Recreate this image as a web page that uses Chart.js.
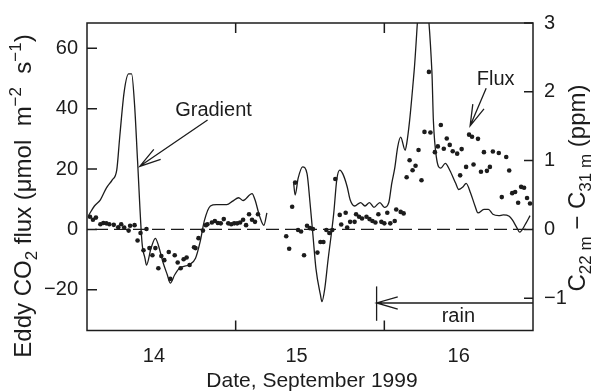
<!DOCTYPE html>
<html>
<head>
<meta charset="utf-8">
<script src="https://cdn.jsdelivr.net/npm/chart.js@4"></script>
<style>
  html, body { margin: 0; padding: 0; background: #fff; }
  #wrap { width: 594px; height: 392px; }
</style>
</head>
<body>
<div id="wrap"><canvas id="chart"></canvas></div>
<script>
// eddy flux (left axis, umol m-2 s-1), one dot per half hour
const fluxDays = [
  14.02,14.04,14.06,14.09,14.11,14.13,14.15,14.18,14.21,14.23,14.25,14.28,14.29,14.32,14.34,14.36,14.38,14.40,
  14.42,14.44,14.46,14.48,14.50,14.52,14.55,14.56,14.59,14.61,14.63,14.65,14.67,14.69,14.72,14.73,14.75,14.78,
  14.80,14.81,14.84,14.86,14.88,14.90,14.92,14.95,14.97,14.99,15.01,15.03,15.05,15.07,15.09,15.11,15.13,15.15,
  15.34,15.36,15.38,15.40,15.42,15.44,15.46,15.48,15.50,15.52,15.55,15.57,15.59,15.61,15.63,15.65,15.67,15.70,
  15.71,15.74,15.75,15.77,15.80,15.81,15.83,15.85,15.88,15.90,15.92,15.94,15.96,15.98,16.00,16.02,16.04,16.07,
  16.08,16.11,16.13,
  16.15,16.17,16.19,16.21,16.23,16.25,16.27,16.30,16.31,16.34,16.36,16.38,16.40,16.42,16.44,16.46,16.49,16.51,
  16.52,16.55,16.57,16.59,16.60,16.63,16.65,16.67,16.69,16.71,16.73,16.77,16.79,16.82,16.84,16.86,16.88,16.90,
  16.92,16.94,16.96,16.98
];
const fluxValues = [
  4.2,3.2,3.9,1.7,2.1,2.0,1.7,1.5,0.7,1.7,0.6,-0.4,1.2,1.4,-3.7,-1.2,-6.9,0.1,
  -6.2,-8.6,-6.2,-12.9,-8.8,-10.2,-7.5,-16.4,-8.6,-11.0,-12.9,-9.9,-9.3,-11.8,-5.9,-6.2,-2.9,-0.4,
  1.4,1.7,2.3,2.8,2.1,2.0,3.4,2.0,1.7,2.0,2.0,2.3,3.2,1.4,5.0,3.2,2.5,5.0,
  -2.3,-6.4,7.5,15.5,-0.2,-0.7,-8.6,1.2,0.4,0.1,-7.7,-4.2,-4.2,-0.2,-1.2,-0.2,16.7,4.8,
  1.6,5.5,0.6,2.5,2.5,5.0,4.2,3.6,4.2,3.4,2.8,2.3,5.0,2.5,2.0,5.5,2.0,2.8,
  6.6,5.8,5.3,
  17.3,22.9,19.6,21.1,26.3,16.3,32.3,52.2,32.1,25.6,27.5,34.6,26.7,30.1,28.0,25.9,25.1,17.9,
  26.6,20.7,31.4,30.7,21.5,30.0,19.1,25.6,19.4,20.7,25.8,25.3,10.7,24.0,19.5,12.0,12.4,8.8,
  14.1,13.8,10.4,8.6
];

// concentration gradient (right axis, ppm), two runs with a gap
const gradDaysA = [14.01,14.05,14.09,14.13,14.17,14.20,14.22,14.25,14.28,14.30,14.32,14.34,14.37,14.39,14.40,14.43,
  14.46,14.48,14.51,14.54,14.56,14.59,14.62,14.69,14.73,14.76,14.79,14.83,14.87,14.94,14.98,15.02,15.05,15.11,
  15.13,15.16,15.19,15.21];
const gradValuesA = [0.20,0.34,0.43,0.60,0.72,0.86,1.34,2.00,2.26,2.26,1.81,1.00,-0.19,-0.42,-0.52,-0.28,
  -0.13,-0.23,-0.47,-0.66,-0.78,-0.66,-0.57,-0.51,-0.42,-0.19,0.13,0.34,0.36,0.36,0.41,0.46,0.42,0.52,
  0.43,0.20,0.06,0.24];
const gradDaysB = [15.39,15.40,15.42,15.45,15.48,15.50,15.52,15.54,15.57,15.58,15.60,15.62,15.66,15.68,15.70,
  15.72,15.75,15.77,15.80,15.84,15.87,15.90,15.93,15.97,16.00,16.03,16.05,16.07,16.09,16.11,16.14,16.15,16.17,
  16.20,16.25,16.32,16.33,16.35,16.38,16.41,16.44,16.48,16.50,16.53,16.55,16.58,16.61,16.63,16.67,16.70,16.73,
  16.77,16.80,16.84,16.86,16.89,16.91,16.95,16.98];
const gradValuesB = [0.67,0.50,0.74,0.91,0.81,0.39,-0.09,-0.57,-0.95,-1.05,-0.85,-0.47,0.24,0.72,0.86,
  0.81,0.62,0.43,0.34,0.39,0.34,0.39,0.32,0.39,0.32,0.39,0.67,0.89,1.20,1.34,1.15,1.24,1.58,
  2.29,3.6,2.29,1.58,1.05,0.89,0.96,0.86,0.67,0.58,0.62,0.67,0.53,0.34,0.24,0.29,0.29,0.22,
  0.20,0.21,0.19,0.14,0.03,-0.04,0.08,0.20];

// axes
const dayMin = 14, dayMax = 17;
const dayTickMarks = [15, 16];
const dayLabelPos = [14.45, 15.41, 16.5];
const dayLabels = ['14', '15', '16'];
const fluxTicks = [-20, 0, 20, 40, 60];
const gradTicks = [-1, 0, 1, 2, 3];
const gradMin = -1.47, gradMax = 3;
const fluxPerPpm = 22.8;   // left and right zero line up

const ink = '#1c1c1c';
const font = '"Liberation Sans", Arial, Helvetica, sans-serif';

const gradPoints = gradDaysA.map((d, i) => ({ x: d, y: gradValuesA[i] }))
  .concat([{ x: 15.3, y: null }])
  .concat(gradDaysB.map((d, i) => ({ x: d, y: gradValuesB[i] })));
const fluxPoints = fluxDays.map((d, i) => ({ x: d, y: fluxValues[i] }));

function minus(v) { return String(v).replace('-', '\u2212'); }

function arrow(ctx, x1, y1, x2, y2) {
  const a = Math.atan2(y1 - y2, x1 - x2), len = 22, spread = 0.28;
  ctx.beginPath();
  ctx.moveTo(x1, y1); ctx.lineTo(x2, y2);
  ctx.moveTo(x2 + len * Math.cos(a - spread), y2 + len * Math.sin(a - spread));
  ctx.lineTo(x2, y2);
  ctx.lineTo(x2 + len * Math.cos(a + spread), y2 + len * Math.sin(a + spread));
  ctx.stroke();
}

// rotated title with sub/superscripts
function richTitle(ctx, parts, cx, cy, size) {
  const big = size + 'px ' + font, small = Math.round(size * 0.7) + 'px ' + font;
  ctx.save();
  ctx.translate(cx, cy);
  ctx.rotate(-Math.PI / 2);
  let w = 0;
  parts.forEach(p => { ctx.font = p.s ? small : big; w += ctx.measureText(p.t).width; });
  let x = -w / 2;
  const base = size * 0.36;
  ctx.textBaseline = 'alphabetic';
  ctx.textAlign = 'left';
  parts.forEach(p => {
    ctx.font = p.s ? small : big;
    const dy = p.s === 'sub' ? size * 0.25 : p.s === 'sup' ? -size * 0.4 : 0;
    ctx.fillText(p.t, x, base + dy);
    x += ctx.measureText(p.t).width;
  });
  ctx.restore();
}

const decor = {
  id: 'decor',
  beforeDatasetsDraw(chart) {
    const { ctx, chartArea: a, scales } = chart;
    const y0 = scales.y.getPixelForValue(0);
    ctx.save();
    ctx.strokeStyle = ink;
    ctx.lineWidth = 1.3;
    ctx.setLineDash([13, 6]);
    ctx.beginPath();
    ctx.moveTo(a.left + 8, y0);
    ctx.lineTo(a.right, y0);
    ctx.stroke();
    ctx.restore();
  },
  afterDatasetsDraw(chart) {
    const { ctx, chartArea: a, scales } = chart;
    const X = v => scales.x.getPixelForValue(v);
    const Y = v => scales.y.getPixelForValue(v);
    const Y2 = v => scales.y2.getPixelForValue(v);
    ctx.save();
    ctx.strokeStyle = ink;
    ctx.fillStyle = ink;

    // frame and inward ticks
    ctx.lineWidth = 1.5;
    ctx.strokeRect(a.left, a.top, a.right - a.left, a.bottom - a.top);
    ctx.beginPath();
    fluxTicks.forEach(v => { ctx.moveTo(a.left, Y(v)); ctx.lineTo(a.left + 10, Y(v)); });
    gradTicks.forEach(v => { ctx.moveTo(a.right, Y2(v)); ctx.lineTo(a.right - 9, Y2(v)); });
    dayTickMarks.forEach(v => {
      ctx.moveTo(X(v), a.bottom); ctx.lineTo(X(v), a.bottom - 10);
      ctx.moveTo(X(v), a.top); ctx.lineTo(X(v), a.top + 10);
    });
    ctx.stroke();

    // annotations
    ctx.lineWidth = 1.3;
    ctx.font = '20px ' + font;
    ctx.textAlign = 'center';
    ctx.textBaseline = 'alphabetic';
    ctx.fillText('Gradient', X(14.851), Y(37.5));
    arrow(ctx, X(14.811), Y(36.25), X(14.355), Y(20.9));
    ctx.fillText('Flux', X(16.749), Y(47.7));
    arrow(ctx, X(16.685), Y(46.8), X(16.577), Y(34.3));

    // rain period
    ctx.beginPath();
    ctx.moveTo(X(15.948), Y(-18.9));
    ctx.lineTo(X(15.948), Y(-30.3));
    ctx.stroke();
    arrow(ctx, X(dayMax), Y(-24.4), X(15.948), Y(-24.4));
    ctx.fillText('rain', X(16.498), Y(-30.6));

    // axis titles
    ctx.font = '21px ' + font;
    ctx.fillText('Date, September 1999', (a.left + a.right) / 2 + 2, 387);
    richTitle(ctx, [
      { t: 'Eddy CO' }, { t: '2', s: 'sub' }, { t: ' flux (\u03bcmol  m' }, { t: '\u22122', s: 'sup' },
      { t: '  s' }, { t: '\u22121', s: 'sup' }, { t: ')' }
    ], 22, 196, 24);
    richTitle(ctx, [
      { t: 'C' }, { t: '22 m', s: 'sub' }, { t: ' \u2212 C' }, { t: '31 m', s: 'sub' }, { t: ' (ppm)' }
    ], 576, 188, 24);
    ctx.restore();
  }
};

new Chart(document.getElementById('chart'), {
  type: 'line',
  data: {
    datasets: [
      {
        label: 'Gradient',
        data: gradPoints,
        yAxisID: 'y2',
        borderColor: ink,
        borderWidth: 1.3,
        pointRadius: 0,
        cubicInterpolationMode: 'monotone',
        spanGaps: false,
        fill: false
      },
      {
        label: 'Flux',
        data: fluxPoints,
        yAxisID: 'y',
        showLine: false,
        pointRadius: 2.3,
        pointBorderWidth: 0,
        pointBackgroundColor: ink
      }
    ]
  },
  options: {
    responsive: true,
    maintainAspectRatio: false,
    devicePixelRatio: 1,
    animation: false,
    layout: { padding: { top: 18, left: 0, right: 0, bottom: 0 } },
    plugins: { legend: { display: false }, tooltip: { enabled: false } },
    scales: {
      x: {
        type: 'linear',
        position: 'bottom',
        min: dayMin,
        max: dayMax,
        grid: { display: false, drawTicks: false },
        border: { display: false },
        afterBuildTicks: s => { s.ticks = dayLabelPos.map(v => ({ value: v })); },
        afterFit: s => { s.height = 61.5; },
        ticks: {
          autoSkip: false,
          maxRotation: 0,
          padding: 14,
          color: ink,
          font: { size: 20, family: font },
          callback: (v, i) => dayLabels[i]
        }
      },
      y: {
        position: 'left',
        min: gradMin * fluxPerPpm,
        max: gradMax * fluxPerPpm,
        grid: { display: false, drawTicks: false },
        border: { display: false },
        afterBuildTicks: s => { s.ticks = fluxTicks.map(v => ({ value: v })); },
        afterFit: s => { s.width = 87; },
        ticks: { padding: 9, color: ink, font: { size: 20, family: font }, callback: v => minus(v) }
      },
      y2: {
        position: 'right',
        min: gradMin,
        max: gradMax,
        grid: { display: false, drawTicks: false },
        border: { display: false },
        afterBuildTicks: s => { s.ticks = gradTicks.map(v => ({ value: v })); },
        afterFit: s => { s.width = 61; },
        ticks: { padding: 11, color: ink, font: { size: 20, family: font }, callback: v => minus(v) }
      }
    }
  },
  plugins: [decor]
});
</script>
</body>
</html>
